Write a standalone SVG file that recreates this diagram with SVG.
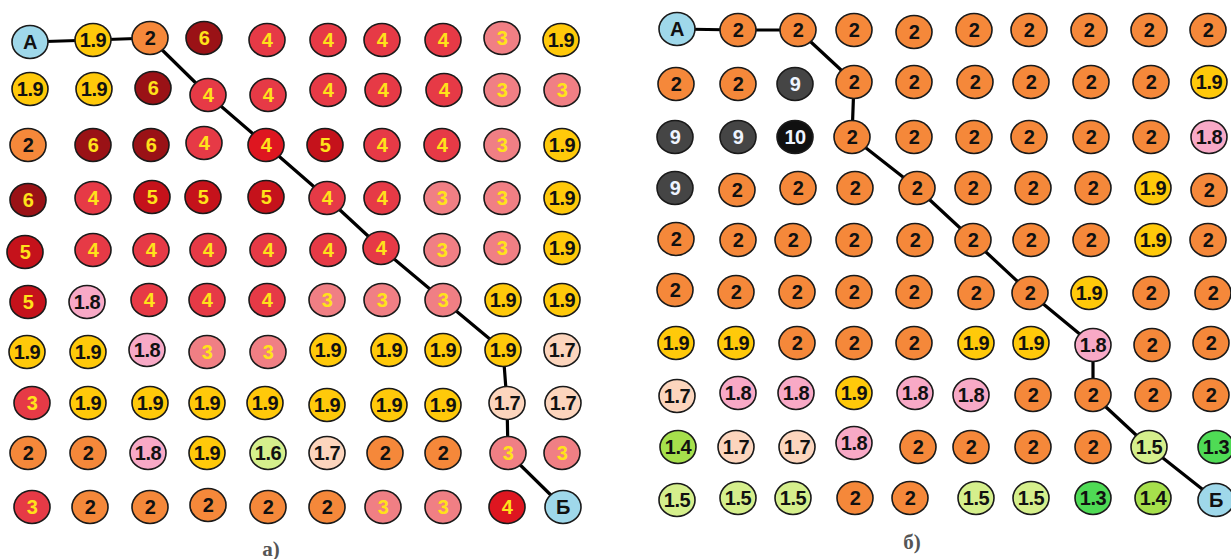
<svg xmlns="http://www.w3.org/2000/svg" width="1231" height="559" viewBox="0 0 1231 559">
<style>
ellipse{stroke:#1a1a1a;stroke-width:1.6}
text{font-family:"Liberation Sans",Arial,sans-serif;font-weight:bold;font-size:20px;text-anchor:middle;letter-spacing:-0.5px}
.bl{fill:#9fd8ea}.ye{fill:#ffc90a}.or{fill:#f5883a}.dr{fill:#9a1216}.rd{fill:#e63a46}.r5{fill:#c5121b}.br{fill:#de1620}.pk{fill:#f07f84}.lp{fill:#f8a9c6}.pe{fill:#fcd5bd}.lg{fill:#d5ef8c}.yg{fill:#a6e04c}.gr{fill:#4fdb55}.g9{fill:#454545}.k{fill:#101010}
.t{fill:#111}.ty{fill:#ffe21a}.tw{fill:#eef4ff}
.lab{font-family:"Liberation Serif","Times New Roman",serif;font-weight:bold;font-size:21px;fill:#555;letter-spacing:0}
.path{fill:none;stroke:#000;stroke-width:3.2;stroke-linejoin:round}
</style>
<g id="connectors">
<polyline class="path" points="30,42 93,40 150,38 208,95 266,145 327,198 381,248 443,300 503,350 507,403 508,453 563,507"/>
<polyline class="path" points="677,29 738,30 798,30 854,82 852,137 917,188 973,240 1030,293 1093,345 1093,395 1149,447 1216,500"/>
</g>
<g id="panel-a">
<g id="a-1-1"><ellipse class="bl" cx="30" cy="42" rx="18" ry="16.5"/><text class="t" x="30" y="49">A</text></g>
<g id="a-1-2"><ellipse class="ye" cx="93" cy="40" rx="18" ry="16.5"/><text class="t" x="93" y="47">1.9</text></g>
<g id="a-1-3"><ellipse class="or" cx="150" cy="38" rx="18" ry="16.5"/><text class="t" x="150" y="45">2</text></g>
<g id="a-1-4"><ellipse class="dr" cx="204" cy="38" rx="18" ry="16.5"/><text class="ty" x="204" y="45">6</text></g>
<g id="a-1-5"><ellipse class="rd" cx="267" cy="40" rx="18" ry="16.5"/><text class="ty" x="267" y="47">4</text></g>
<g id="a-1-6"><ellipse class="rd" cx="328" cy="40" rx="18" ry="16.5"/><text class="ty" x="328" y="47">4</text></g>
<g id="a-1-7"><ellipse class="rd" cx="382" cy="40" rx="18" ry="16.5"/><text class="ty" x="382" y="47">4</text></g>
<g id="a-1-8"><ellipse class="rd" cx="443" cy="40" rx="18" ry="16.5"/><text class="ty" x="443" y="47">4</text></g>
<g id="a-1-9"><ellipse class="pk" cx="502" cy="38" rx="18" ry="16.5"/><text class="ty" x="502" y="45">3</text></g>
<g id="a-1-10"><ellipse class="ye" cx="561" cy="40" rx="18" ry="16.5"/><text class="t" x="561" y="47">1.9</text></g>

<g id="a-2-1"><ellipse class="ye" cx="30" cy="89" rx="18" ry="16.5"/><text class="t" x="30" y="96">1.9</text></g>
<g id="a-2-2"><ellipse class="ye" cx="94" cy="89" rx="18" ry="16.5"/><text class="t" x="94" y="96">1.9</text></g>
<g id="a-2-3"><ellipse class="dr" cx="153" cy="88" rx="18" ry="16.5"/><text class="ty" x="153" y="95">6</text></g>
<g id="a-2-4"><ellipse class="rd" cx="208" cy="95" rx="18" ry="16.5"/><text class="ty" x="208" y="102">4</text></g>
<g id="a-2-5"><ellipse class="rd" cx="268" cy="95" rx="18" ry="16.5"/><text class="ty" x="268" y="102">4</text></g>
<g id="a-2-6"><ellipse class="rd" cx="328" cy="90" rx="18" ry="16.5"/><text class="ty" x="328" y="97">4</text></g>
<g id="a-2-7"><ellipse class="rd" cx="383" cy="90" rx="18" ry="16.5"/><text class="ty" x="383" y="97">4</text></g>
<g id="a-2-8"><ellipse class="rd" cx="444" cy="90" rx="18" ry="16.5"/><text class="ty" x="444" y="97">4</text></g>
<g id="a-2-9"><ellipse class="pk" cx="502" cy="90" rx="18" ry="16.5"/><text class="ty" x="502" y="97">3</text></g>
<g id="a-2-10"><ellipse class="pk" cx="562" cy="90" rx="18" ry="16.5"/><text class="ty" x="562" y="97">3</text></g>

<g id="a-3-1"><ellipse class="or" cx="28" cy="145" rx="18" ry="16.5"/><text class="t" x="28" y="152">2</text></g>
<g id="a-3-2"><ellipse class="dr" cx="93" cy="145" rx="18" ry="16.5"/><text class="ty" x="93" y="152">6</text></g>
<g id="a-3-3"><ellipse class="dr" cx="151" cy="145" rx="18" ry="16.5"/><text class="ty" x="151" y="152">6</text></g>
<g id="a-3-4"><ellipse class="rd" cx="204" cy="143" rx="18" ry="16.5"/><text class="ty" x="204" y="150">4</text></g>
<g id="a-3-5"><ellipse class="br" cx="266" cy="145" rx="18" ry="16.5"/><text class="ty" x="266" y="152">4</text></g>
<g id="a-3-6"><ellipse class="r5" cx="325" cy="145" rx="18" ry="16.5"/><text class="ty" x="325" y="152">5</text></g>
<g id="a-3-7"><ellipse class="rd" cx="382" cy="145" rx="18" ry="16.5"/><text class="ty" x="382" y="152">4</text></g>
<g id="a-3-8"><ellipse class="rd" cx="442" cy="145" rx="18" ry="16.5"/><text class="ty" x="442" y="152">4</text></g>
<g id="a-3-9"><ellipse class="pk" cx="502" cy="145" rx="18" ry="16.5"/><text class="ty" x="502" y="152">3</text></g>
<g id="a-3-10"><ellipse class="ye" cx="562" cy="145" rx="18" ry="16.5"/><text class="t" x="562" y="152">1.9</text></g>

<g id="a-4-1"><ellipse class="dr" cx="28" cy="200" rx="18" ry="16.5"/><text class="ty" x="28" y="207">6</text></g>
<g id="a-4-2"><ellipse class="rd" cx="93" cy="198" rx="18" ry="16.5"/><text class="ty" x="93" y="205">4</text></g>
<g id="a-4-3"><ellipse class="r5" cx="152" cy="197" rx="18" ry="16.5"/><text class="ty" x="152" y="204">5</text></g>
<g id="a-4-4"><ellipse class="r5" cx="203" cy="197" rx="18" ry="16.5"/><text class="ty" x="203" y="204">5</text></g>
<g id="a-4-5"><ellipse class="r5" cx="266" cy="197" rx="18" ry="16.5"/><text class="ty" x="266" y="204">5</text></g>
<g id="a-4-6"><ellipse class="rd" cx="327" cy="198" rx="18" ry="16.5"/><text class="ty" x="327" y="205">4</text></g>
<g id="a-4-7"><ellipse class="rd" cx="382" cy="198" rx="18" ry="16.5"/><text class="ty" x="382" y="205">4</text></g>
<g id="a-4-8"><ellipse class="pk" cx="442" cy="198" rx="18" ry="16.5"/><text class="ty" x="442" y="205">3</text></g>
<g id="a-4-9"><ellipse class="pk" cx="502" cy="198" rx="18" ry="16.5"/><text class="ty" x="502" y="205">3</text></g>
<g id="a-4-10"><ellipse class="ye" cx="562" cy="198" rx="18" ry="16.5"/><text class="t" x="562" y="205">1.9</text></g>

<g id="a-5-1"><ellipse class="r5" cx="25" cy="252" rx="18" ry="16.5"/><text class="ty" x="25" y="259">5</text></g>
<g id="a-5-2"><ellipse class="rd" cx="93" cy="250" rx="18" ry="16.5"/><text class="ty" x="93" y="257">4</text></g>
<g id="a-5-3"><ellipse class="rd" cx="151" cy="250" rx="18" ry="16.5"/><text class="ty" x="151" y="257">4</text></g>
<g id="a-5-4"><ellipse class="rd" cx="208" cy="250" rx="18" ry="16.5"/><text class="ty" x="208" y="257">4</text></g>
<g id="a-5-5"><ellipse class="rd" cx="268" cy="250" rx="18" ry="16.5"/><text class="ty" x="268" y="257">4</text></g>
<g id="a-5-6"><ellipse class="rd" cx="328" cy="250" rx="18" ry="16.5"/><text class="ty" x="328" y="257">4</text></g>
<g id="a-5-7"><ellipse class="rd" cx="381" cy="248" rx="18" ry="16.5"/><text class="ty" x="381" y="255">4</text></g>
<g id="a-5-8"><ellipse class="pk" cx="442" cy="250" rx="18" ry="16.5"/><text class="ty" x="442" y="257">3</text></g>
<g id="a-5-9"><ellipse class="pk" cx="502" cy="248" rx="18" ry="16.5"/><text class="ty" x="502" y="255">3</text></g>
<g id="a-5-10"><ellipse class="ye" cx="562" cy="248" rx="18" ry="16.5"/><text class="t" x="562" y="255">1.9</text></g>

<g id="a-6-1"><ellipse class="r5" cx="28" cy="302" rx="18" ry="16.5"/><text class="ty" x="28" y="309">5</text></g>
<g id="a-6-2"><ellipse class="lp" cx="87" cy="302" rx="18" ry="16.5"/><text class="t" x="87" y="309">1.8</text></g>
<g id="a-6-3"><ellipse class="rd" cx="149" cy="300" rx="18" ry="16.5"/><text class="ty" x="149" y="307">4</text></g>
<g id="a-6-4"><ellipse class="rd" cx="207" cy="300" rx="18" ry="16.5"/><text class="ty" x="207" y="307">4</text></g>
<g id="a-6-5"><ellipse class="rd" cx="267" cy="300" rx="18" ry="16.5"/><text class="ty" x="267" y="307">4</text></g>
<g id="a-6-6"><ellipse class="pk" cx="327" cy="300" rx="18" ry="16.5"/><text class="ty" x="327" y="307">3</text></g>
<g id="a-6-7"><ellipse class="pk" cx="382" cy="300" rx="18" ry="16.5"/><text class="ty" x="382" y="307">3</text></g>
<g id="a-6-8"><ellipse class="pk" cx="443" cy="300" rx="18" ry="16.5"/><text class="ty" x="443" y="307">3</text></g>
<g id="a-6-9"><ellipse class="ye" cx="503" cy="300" rx="18" ry="16.5"/><text class="t" x="503" y="307">1.9</text></g>
<g id="a-6-10"><ellipse class="ye" cx="562" cy="300" rx="18" ry="16.5"/><text class="t" x="562" y="307">1.9</text></g>

<g id="a-7-1"><ellipse class="ye" cx="27" cy="352" rx="18" ry="16.5"/><text class="t" x="27" y="359">1.9</text></g>
<g id="a-7-2"><ellipse class="ye" cx="88" cy="352" rx="18" ry="16.5"/><text class="t" x="88" y="359">1.9</text></g>
<g id="a-7-3"><ellipse class="lp" cx="147" cy="350" rx="18" ry="16.5"/><text class="t" x="147" y="357">1.8</text></g>
<g id="a-7-4"><ellipse class="pk" cx="207" cy="352" rx="18" ry="16.5"/><text class="ty" x="207" y="359">3</text></g>
<g id="a-7-5"><ellipse class="pk" cx="268" cy="352" rx="18" ry="16.5"/><text class="ty" x="268" y="359">3</text></g>
<g id="a-7-6"><ellipse class="ye" cx="328" cy="350" rx="18" ry="16.5"/><text class="t" x="328" y="357">1.9</text></g>
<g id="a-7-7"><ellipse class="ye" cx="389" cy="350" rx="18" ry="16.5"/><text class="t" x="389" y="357">1.9</text></g>
<g id="a-7-8"><ellipse class="ye" cx="443" cy="350" rx="18" ry="16.5"/><text class="t" x="443" y="357">1.9</text></g>
<g id="a-7-9"><ellipse class="ye" cx="503" cy="350" rx="18" ry="16.5"/><text class="t" x="503" y="357">1.9</text></g>
<g id="a-7-10"><ellipse class="pe" cx="562" cy="350" rx="18" ry="16.5"/><text class="t" x="562" y="357">1.7</text></g>

<g id="a-8-1"><ellipse class="rd" cx="32" cy="403" rx="18" ry="16.5"/><text class="ty" x="32" y="410">3</text></g>
<g id="a-8-2"><ellipse class="ye" cx="88" cy="403" rx="18" ry="16.5"/><text class="t" x="88" y="410">1.9</text></g>
<g id="a-8-3"><ellipse class="ye" cx="150" cy="403" rx="18" ry="16.5"/><text class="t" x="150" y="410">1.9</text></g>
<g id="a-8-4"><ellipse class="ye" cx="207" cy="403" rx="18" ry="16.5"/><text class="t" x="207" y="410">1.9</text></g>
<g id="a-8-5"><ellipse class="ye" cx="265" cy="403" rx="18" ry="16.5"/><text class="t" x="265" y="410">1.9</text></g>
<g id="a-8-6"><ellipse class="ye" cx="327" cy="405" rx="18" ry="16.5"/><text class="t" x="327" y="412">1.9</text></g>
<g id="a-8-7"><ellipse class="ye" cx="389" cy="405" rx="18" ry="16.5"/><text class="t" x="389" y="412">1.9</text></g>
<g id="a-8-8"><ellipse class="ye" cx="443" cy="405" rx="18" ry="16.5"/><text class="t" x="443" y="412">1.9</text></g>
<g id="a-8-9"><ellipse class="pe" cx="507" cy="403" rx="18" ry="16.5"/><text class="t" x="507" y="410">1.7</text></g>
<g id="a-8-10"><ellipse class="pe" cx="563" cy="403" rx="18" ry="16.5"/><text class="t" x="563" y="410">1.7</text></g>

<g id="a-9-1"><ellipse class="or" cx="28" cy="453" rx="18" ry="16.5"/><text class="t" x="28" y="460">2</text></g>
<g id="a-9-2"><ellipse class="or" cx="88" cy="453" rx="18" ry="16.5"/><text class="t" x="88" y="460">2</text></g>
<g id="a-9-3"><ellipse class="lp" cx="148" cy="453" rx="18" ry="16.5"/><text class="t" x="148" y="460">1.8</text></g>
<g id="a-9-4"><ellipse class="ye" cx="207" cy="453" rx="18" ry="16.5"/><text class="t" x="207" y="460">1.9</text></g>
<g id="a-9-5"><ellipse class="lg" cx="268" cy="453" rx="18" ry="16.5"/><text class="t" x="268" y="460">1.6</text></g>
<g id="a-9-6"><ellipse class="pe" cx="327" cy="453" rx="18" ry="16.5"/><text class="t" x="327" y="460">1.7</text></g>
<g id="a-9-7"><ellipse class="or" cx="385" cy="453" rx="18" ry="16.5"/><text class="t" x="385" y="460">2</text></g>
<g id="a-9-8"><ellipse class="or" cx="443" cy="453" rx="18" ry="16.5"/><text class="t" x="443" y="460">2</text></g>
<g id="a-9-9"><ellipse class="pk" cx="508" cy="453" rx="18" ry="16.5"/><text class="ty" x="508" y="460">3</text></g>
<g id="a-9-10"><ellipse class="pk" cx="562" cy="453" rx="18" ry="16.5"/><text class="ty" x="562" y="460">3</text></g>

<g id="a-10-1"><ellipse class="rd" cx="32" cy="507" rx="18" ry="16.5"/><text class="ty" x="32" y="514">3</text></g>
<g id="a-10-2"><ellipse class="or" cx="90" cy="507" rx="18" ry="16.5"/><text class="t" x="90" y="514">2</text></g>
<g id="a-10-3"><ellipse class="or" cx="150" cy="507" rx="18" ry="16.5"/><text class="t" x="150" y="514">2</text></g>
<g id="a-10-4"><ellipse class="or" cx="208" cy="505" rx="18" ry="16.5"/><text class="t" x="208" y="512">2</text></g>
<g id="a-10-5"><ellipse class="or" cx="268" cy="507" rx="18" ry="16.5"/><text class="t" x="268" y="514">2</text></g>
<g id="a-10-6"><ellipse class="or" cx="327" cy="507" rx="18" ry="16.5"/><text class="t" x="327" y="514">2</text></g>
<g id="a-10-7"><ellipse class="pk" cx="383" cy="507" rx="18" ry="16.5"/><text class="ty" x="383" y="514">3</text></g>
<g id="a-10-8"><ellipse class="pk" cx="443" cy="507" rx="18" ry="16.5"/><text class="ty" x="443" y="514">3</text></g>
<g id="a-10-9"><ellipse class="br" cx="507" cy="507" rx="18" ry="16.5"/><text class="ty" x="507" y="514">4</text></g>
<g id="a-10-10"><ellipse class="bl" cx="563" cy="507" rx="18" ry="16.5"/><text class="t" x="563" y="514">Б</text></g>
<text class="lab" x="271" y="556">а)</text>
</g>

<g id="panel-b">
<g id="b-1-1"><ellipse class="bl" cx="677" cy="29" rx="18" ry="16.5"/><text class="t" x="677" y="36">A</text></g>
<g id="b-1-2"><ellipse class="or" cx="738" cy="30" rx="18" ry="16.5"/><text class="t" x="738" y="37">2</text></g>
<g id="b-1-3"><ellipse class="or" cx="798" cy="30" rx="18" ry="16.5"/><text class="t" x="798" y="37">2</text></g>
<g id="b-1-4"><ellipse class="or" cx="854" cy="30" rx="18" ry="16.5"/><text class="t" x="854" y="37">2</text></g>
<g id="b-1-5"><ellipse class="or" cx="914" cy="32" rx="18" ry="16.5"/><text class="t" x="914" y="39">2</text></g>
<g id="b-1-6"><ellipse class="or" cx="974" cy="30" rx="18" ry="16.5"/><text class="t" x="974" y="37">2</text></g>
<g id="b-1-7"><ellipse class="or" cx="1029" cy="30" rx="18" ry="16.5"/><text class="t" x="1029" y="37">2</text></g>
<g id="b-1-8"><ellipse class="or" cx="1089" cy="30" rx="18" ry="16.5"/><text class="t" x="1089" y="37">2</text></g>
<g id="b-1-9"><ellipse class="or" cx="1149" cy="30" rx="18" ry="16.5"/><text class="t" x="1149" y="37">2</text></g>
<g id="b-1-10"><ellipse class="or" cx="1208" cy="30" rx="18" ry="16.5"/><text class="t" x="1208" y="37">2</text></g>

<g id="b-2-1"><ellipse class="or" cx="676" cy="84" rx="18" ry="16.5"/><text class="t" x="676" y="91">2</text></g>
<g id="b-2-2"><ellipse class="or" cx="738" cy="84" rx="18" ry="16.5"/><text class="t" x="738" y="91">2</text></g>
<g id="b-2-3"><ellipse class="g9" cx="795" cy="84" rx="18" ry="16.5"/><text class="tw" x="795" y="91">9</text></g>
<g id="b-2-4"><ellipse class="or" cx="854" cy="82" rx="18" ry="16.5"/><text class="t" x="854" y="89">2</text></g>
<g id="b-2-5"><ellipse class="or" cx="914" cy="82" rx="18" ry="16.5"/><text class="t" x="914" y="89">2</text></g>
<g id="b-2-6"><ellipse class="or" cx="975" cy="82" rx="18" ry="16.5"/><text class="t" x="975" y="89">2</text></g>
<g id="b-2-7"><ellipse class="or" cx="1031" cy="82" rx="18" ry="16.5"/><text class="t" x="1031" y="89">2</text></g>
<g id="b-2-8"><ellipse class="or" cx="1091" cy="82" rx="18" ry="16.5"/><text class="t" x="1091" y="89">2</text></g>
<g id="b-2-9"><ellipse class="or" cx="1151" cy="82" rx="18" ry="16.5"/><text class="t" x="1151" y="89">2</text></g>
<g id="b-2-10"><ellipse class="ye" cx="1209" cy="82" rx="18" ry="16.5"/><text class="t" x="1209" y="89">1.9</text></g>

<g id="b-3-1"><ellipse class="g9" cx="675" cy="137" rx="18" ry="16.5"/><text class="tw" x="675" y="144">9</text></g>
<g id="b-3-2"><ellipse class="g9" cx="738" cy="137" rx="18" ry="16.5"/><text class="tw" x="738" y="144">9</text></g>
<g id="b-3-3"><ellipse class="k" cx="795" cy="137" rx="18" ry="16.5"/><text class="tw" x="795" y="144">10</text></g>
<g id="b-3-4"><ellipse class="or" cx="852" cy="137" rx="18" ry="16.5"/><text class="t" x="852" y="144">2</text></g>
<g id="b-3-5"><ellipse class="or" cx="914" cy="137" rx="18" ry="16.5"/><text class="t" x="914" y="144">2</text></g>
<g id="b-3-6"><ellipse class="or" cx="974" cy="137" rx="18" ry="16.5"/><text class="t" x="974" y="144">2</text></g>
<g id="b-3-7"><ellipse class="or" cx="1029" cy="137" rx="18" ry="16.5"/><text class="t" x="1029" y="144">2</text></g>
<g id="b-3-8"><ellipse class="or" cx="1091" cy="137" rx="18" ry="16.5"/><text class="t" x="1091" y="144">2</text></g>
<g id="b-3-9"><ellipse class="or" cx="1151" cy="137" rx="18" ry="16.5"/><text class="t" x="1151" y="144">2</text></g>
<g id="b-3-10"><ellipse class="lp" cx="1209" cy="137" rx="18" ry="16.5"/><text class="t" x="1209" y="144">1.8</text></g>

<g id="b-4-1"><ellipse class="g9" cx="675" cy="188" rx="18" ry="16.5"/><text class="tw" x="675" y="195">9</text></g>
<g id="b-4-2"><ellipse class="or" cx="737" cy="190" rx="18" ry="16.5"/><text class="t" x="737" y="197">2</text></g>
<g id="b-4-3"><ellipse class="or" cx="798" cy="188" rx="18" ry="16.5"/><text class="t" x="798" y="195">2</text></g>
<g id="b-4-4"><ellipse class="or" cx="855" cy="188" rx="18" ry="16.5"/><text class="t" x="855" y="195">2</text></g>
<g id="b-4-5"><ellipse class="or" cx="917" cy="188" rx="18" ry="16.5"/><text class="t" x="917" y="195">2</text></g>
<g id="b-4-6"><ellipse class="or" cx="973" cy="188" rx="18" ry="16.5"/><text class="t" x="973" y="195">2</text></g>
<g id="b-4-7"><ellipse class="or" cx="1033" cy="188" rx="18" ry="16.5"/><text class="t" x="1033" y="195">2</text></g>
<g id="b-4-8"><ellipse class="or" cx="1093" cy="188" rx="18" ry="16.5"/><text class="t" x="1093" y="195">2</text></g>
<g id="b-4-9"><ellipse class="ye" cx="1153" cy="188" rx="18" ry="16.5"/><text class="t" x="1153" y="195">1.9</text></g>
<g id="b-4-10"><ellipse class="or" cx="1209" cy="190" rx="18" ry="16.5"/><text class="t" x="1209" y="197">2</text></g>

<g id="b-5-1"><ellipse class="or" cx="676" cy="239" rx="18" ry="16.5"/><text class="t" x="676" y="246">2</text></g>
<g id="b-5-2"><ellipse class="or" cx="738" cy="240" rx="18" ry="16.5"/><text class="t" x="738" y="247">2</text></g>
<g id="b-5-3"><ellipse class="or" cx="793" cy="240" rx="18" ry="16.5"/><text class="t" x="793" y="247">2</text></g>
<g id="b-5-4"><ellipse class="or" cx="854" cy="240" rx="18" ry="16.5"/><text class="t" x="854" y="247">2</text></g>
<g id="b-5-5"><ellipse class="or" cx="915" cy="240" rx="18" ry="16.5"/><text class="t" x="915" y="247">2</text></g>
<g id="b-5-6"><ellipse class="or" cx="973" cy="240" rx="18" ry="16.5"/><text class="t" x="973" y="247">2</text></g>
<g id="b-5-7"><ellipse class="or" cx="1031" cy="240" rx="18" ry="16.5"/><text class="t" x="1031" y="247">2</text></g>
<g id="b-5-8"><ellipse class="or" cx="1091" cy="240" rx="18" ry="16.5"/><text class="t" x="1091" y="247">2</text></g>
<g id="b-5-9"><ellipse class="ye" cx="1153" cy="240" rx="18" ry="16.5"/><text class="t" x="1153" y="247">1.9</text></g>
<g id="b-5-10"><ellipse class="or" cx="1208" cy="240" rx="18" ry="16.5"/><text class="t" x="1208" y="247">2</text></g>

<g id="b-6-1"><ellipse class="or" cx="675" cy="290" rx="18" ry="16.5"/><text class="t" x="675" y="297">2</text></g>
<g id="b-6-2"><ellipse class="or" cx="736" cy="292" rx="18" ry="16.5"/><text class="t" x="736" y="299">2</text></g>
<g id="b-6-3"><ellipse class="or" cx="797" cy="292" rx="18" ry="16.5"/><text class="t" x="797" y="299">2</text></g>
<g id="b-6-4"><ellipse class="or" cx="854" cy="292" rx="18" ry="16.5"/><text class="t" x="854" y="299">2</text></g>
<g id="b-6-5"><ellipse class="or" cx="914" cy="292" rx="18" ry="16.5"/><text class="t" x="914" y="299">2</text></g>
<g id="b-6-6"><ellipse class="or" cx="976" cy="293" rx="18" ry="16.5"/><text class="t" x="976" y="300">2</text></g>
<g id="b-6-7"><ellipse class="or" cx="1030" cy="293" rx="18" ry="16.5"/><text class="t" x="1030" y="300">2</text></g>
<g id="b-6-8"><ellipse class="ye" cx="1089" cy="293" rx="18" ry="16.5"/><text class="t" x="1089" y="300">1.9</text></g>
<g id="b-6-9"><ellipse class="or" cx="1151" cy="293" rx="18" ry="16.5"/><text class="t" x="1151" y="300">2</text></g>
<g id="b-6-10"><ellipse class="or" cx="1213" cy="293" rx="18" ry="16.5"/><text class="t" x="1213" y="300">2</text></g>

<g id="b-7-1"><ellipse class="ye" cx="676" cy="343" rx="18" ry="16.5"/><text class="t" x="676" y="350">1.9</text></g>
<g id="b-7-2"><ellipse class="ye" cx="736" cy="343" rx="18" ry="16.5"/><text class="t" x="736" y="350">1.9</text></g>
<g id="b-7-3"><ellipse class="or" cx="797" cy="343" rx="18" ry="16.5"/><text class="t" x="797" y="350">2</text></g>
<g id="b-7-4"><ellipse class="or" cx="854" cy="343" rx="18" ry="16.5"/><text class="t" x="854" y="350">2</text></g>
<g id="b-7-5"><ellipse class="or" cx="914" cy="343" rx="18" ry="16.5"/><text class="t" x="914" y="350">2</text></g>
<g id="b-7-6"><ellipse class="ye" cx="976" cy="343" rx="18" ry="16.5"/><text class="t" x="976" y="350">1.9</text></g>
<g id="b-7-7"><ellipse class="ye" cx="1031" cy="343" rx="18" ry="16.5"/><text class="t" x="1031" y="350">1.9</text></g>
<g id="b-7-8"><ellipse class="lp" cx="1093" cy="345" rx="18" ry="16.5"/><text class="t" x="1093" y="352">1.8</text></g>
<g id="b-7-9"><ellipse class="or" cx="1152" cy="345" rx="18" ry="16.5"/><text class="t" x="1152" y="352">2</text></g>
<g id="b-7-10"><ellipse class="or" cx="1211" cy="343" rx="18" ry="16.5"/><text class="t" x="1211" y="350">2</text></g>

<g id="b-8-1"><ellipse class="pe" cx="677" cy="396" rx="18" ry="16.5"/><text class="t" x="677" y="403">1.7</text></g>
<g id="b-8-2"><ellipse class="lp" cx="738" cy="393" rx="18" ry="16.5"/><text class="t" x="738" y="400">1.8</text></g>
<g id="b-8-3"><ellipse class="lp" cx="796" cy="393" rx="18" ry="16.5"/><text class="t" x="796" y="400">1.8</text></g>
<g id="b-8-4"><ellipse class="ye" cx="854" cy="393" rx="18" ry="16.5"/><text class="t" x="854" y="400">1.9</text></g>
<g id="b-8-5"><ellipse class="lp" cx="915" cy="393" rx="18" ry="16.5"/><text class="t" x="915" y="400">1.8</text></g>
<g id="b-8-6"><ellipse class="lp" cx="971" cy="395" rx="18" ry="16.5"/><text class="t" x="971" y="402">1.8</text></g>
<g id="b-8-7"><ellipse class="or" cx="1033" cy="395" rx="18" ry="16.5"/><text class="t" x="1033" y="402">2</text></g>
<g id="b-8-8"><ellipse class="or" cx="1093" cy="395" rx="18" ry="16.5"/><text class="t" x="1093" y="402">2</text></g>
<g id="b-8-9"><ellipse class="or" cx="1153" cy="395" rx="18" ry="16.5"/><text class="t" x="1153" y="402">2</text></g>
<g id="b-8-10"><ellipse class="or" cx="1211" cy="395" rx="18" ry="16.5"/><text class="t" x="1211" y="402">2</text></g>

<g id="b-9-1"><ellipse class="yg" cx="678" cy="447" rx="18" ry="16.5"/><text class="t" x="678" y="454">1.4</text></g>
<g id="b-9-2"><ellipse class="pe" cx="736" cy="447" rx="18" ry="16.5"/><text class="t" x="736" y="454">1.7</text></g>
<g id="b-9-3"><ellipse class="pe" cx="797" cy="447" rx="18" ry="16.5"/><text class="t" x="797" y="454">1.7</text></g>
<g id="b-9-4"><ellipse class="lp" cx="854" cy="443" rx="18" ry="16.5"/><text class="t" x="854" y="450">1.8</text></g>
<g id="b-9-5"><ellipse class="or" cx="918" cy="447" rx="18" ry="16.5"/><text class="t" x="918" y="454">2</text></g>
<g id="b-9-6"><ellipse class="or" cx="971" cy="447" rx="18" ry="16.5"/><text class="t" x="971" y="454">2</text></g>
<g id="b-9-7"><ellipse class="or" cx="1033" cy="447" rx="18" ry="16.5"/><text class="t" x="1033" y="454">2</text></g>
<g id="b-9-8"><ellipse class="or" cx="1093" cy="447" rx="18" ry="16.5"/><text class="t" x="1093" y="454">2</text></g>
<g id="b-9-9"><ellipse class="lg" cx="1149" cy="447" rx="18" ry="16.5"/><text class="t" x="1149" y="454">1.5</text></g>
<g id="b-9-10"><ellipse class="gr" cx="1216" cy="447" rx="18" ry="16.5"/><text class="t" x="1216" y="454">1.3</text></g>

<g id="b-10-1"><ellipse class="lg" cx="677" cy="500" rx="18" ry="16.5"/><text class="t" x="677" y="507">1.5</text></g>
<g id="b-10-2"><ellipse class="lg" cx="738" cy="498" rx="18" ry="16.5"/><text class="t" x="738" y="505">1.5</text></g>
<g id="b-10-3"><ellipse class="lg" cx="793" cy="498" rx="18" ry="16.5"/><text class="t" x="793" y="505">1.5</text></g>
<g id="b-10-4"><ellipse class="or" cx="855" cy="498" rx="18" ry="16.5"/><text class="t" x="855" y="505">2</text></g>
<g id="b-10-5"><ellipse class="or" cx="910" cy="498" rx="18" ry="16.5"/><text class="t" x="910" y="505">2</text></g>
<g id="b-10-6"><ellipse class="lg" cx="976" cy="498" rx="18" ry="16.5"/><text class="t" x="976" y="505">1.5</text></g>
<g id="b-10-7"><ellipse class="lg" cx="1031" cy="498" rx="18" ry="16.5"/><text class="t" x="1031" y="505">1.5</text></g>
<g id="b-10-8"><ellipse class="gr" cx="1093" cy="498" rx="18" ry="16.5"/><text class="t" x="1093" y="505">1.3</text></g>
<g id="b-10-9"><ellipse class="yg" cx="1153" cy="498" rx="18" ry="16.5"/><text class="t" x="1153" y="505">1.4</text></g>
<g id="b-10-10"><ellipse class="bl" cx="1216" cy="500" rx="18" ry="16.5"/><text class="t" x="1216" y="507">Б</text></g>
<text class="lab" x="912" y="549">б)</text>
</g>
</svg>
